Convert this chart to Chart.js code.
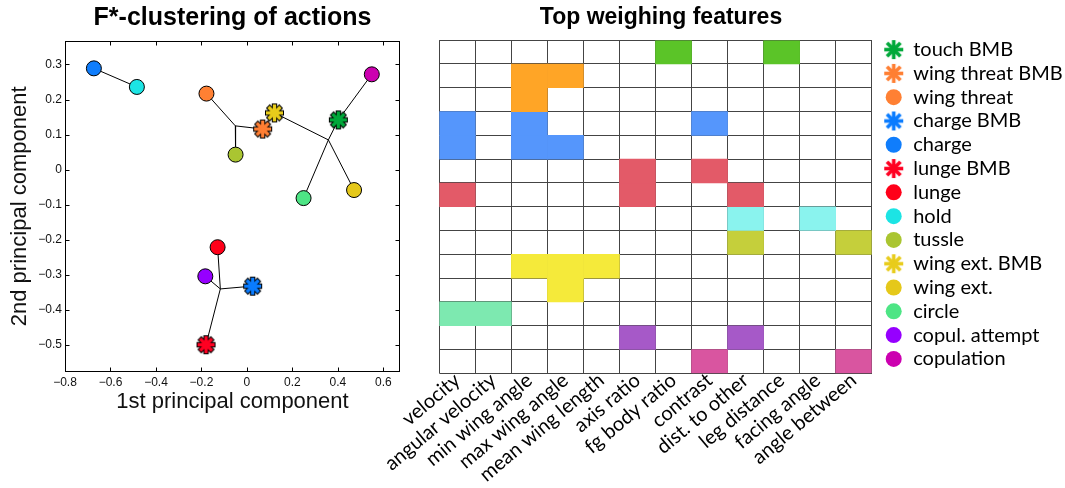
<!DOCTYPE html>
<html>
<head>
<meta charset="utf-8">
<script src="https://cdn.jsdelivr.net/npm/chart.js@4.4.0/dist/chart.umd.min.js"></script>
<style>
  html, body { margin: 0; padding: 0; background: #fff; }
  #pca { position: absolute; left: 0; top: 0; }
  #features { position: absolute; left: 340px; top: 0; }
</style>
</head>
<body>
<canvas id="pca" width="425" height="488"></canvas>
<canvas id="features" width="725" height="488"></canvas>
<script>
// actions, in legend / heatmap row order
const actions = ['touch BMB', 'wing threat BMB', 'wing threat', 'charge BMB', 'charge',
  'lunge BMB', 'lunge', 'hold', 'tussle', 'wing ext. BMB', 'wing ext.', 'circle',
  'copul. attempt', 'copulation'];
const markerColors = ['#00a83a', '#ff7f33', '#ff8033', '#0a7cff', '#0f7dfc',
  '#ff0022', '#ff0019', '#1ce4e4', '#aac531', '#e8cc1c', '#e5c81a', '#4de585',
  '#9600ff', '#cc00b0'];
const cellColors = ['#5bc428', '#ffa526', '#ffa526', '#5596fc', '#5596fc',
  '#e35a68', '#e35a68', '#8af3ee', '#c5cf3b', '#f5ea3a', '#f5ea3a', '#7de9b0',
  '#a659c8', '#d955a0'];

// first two principal components of each action
const pcX = [0.402, 0.069, -0.178, 0.025, -0.673, -0.180, -0.129, -0.484, -0.050, 0.121, 0.471, 0.249, -0.183, 0.549];
const pcY = [0.142, 0.116, 0.217, -0.332, 0.289, -0.499, -0.221, 0.236, 0.043, 0.162, -0.058, -0.081, -0.304, 0.272];
// cluster junctions (indices 14, 15, 16 in links)
const junctionX = [-0.051, 0.358, -0.117];
const junctionY = [0.125, 0.085, -0.340];
const links = [[4, 7], [14, 2], [14, 8], [14, 1], [1, 9], [15, 9], [15, 10], [15, 11],
  [15, 0], [0, 13], [16, 6], [16, 12], [16, 3], [16, 5]];
const xTicks = [-0.8, -0.6, -0.4, -0.2, 0, 0.2, 0.4, 0.6];
const yTicks = [-0.5, -0.4, -0.3, -0.2, -0.1, 0, 0.1, 0.2, 0.3];

// heatmap columns and the top features marked for each action
const features = ['velocity', 'angular velocity', 'min wing angle', 'max wing angle',
  'mean wing length', 'axis ratio', 'fg body ratio', 'contrast', 'dist. to other',
  'leg distance', 'facing angle', 'angle between'];
const topFeatures = [[6, 9], [2, 3], [2], [0, 2, 7], [0, 2, 3], [5, 7], [0, 5, 8],
  [8, 10], [8, 11], [2, 3, 4], [3], [0, 1], [5, 8], [7, 11]];

const isBMB = actions.map(a => a.endsWith('BMB'));
const SANS = '"Liberation Sans", Arial, sans-serif';

// eight-armed asterisk marker, optionally outlined in black
function asterisk(color, size, arm, outline) {
  const c = document.createElement('canvas');
  c.width = c.height = size + 4;
  const ctx = c.getContext('2d');
  ctx.translate(c.width / 2, c.height / 2);
  const bars = (len, w, fill) => {
    ctx.fillStyle = fill;
    for (let k = 0; k < 4; k++) {
      ctx.save();
      ctx.rotate(k * Math.PI / 4);
      ctx.fillRect(-len / 2, -w / 2, len, w);
      ctx.restore();
    }
  };
  if (outline) {
    bars(size, arm + 2, '#000');
    bars(size - 2, arm, color);
  } else {
    bars(size, arm, color);
  }
  return c;
}

const fmt = v => v === 0 ? '0' : (v < 0 ? '\u2212' : '') + Math.abs(v).toFixed(1);

// box with inward tick marks on all four sides
const frame = {
  id: 'frame',
  beforeDatasetsDraw(chart) {
    const {ctx, chartArea: a, scales: {x, y}} = chart;
    const L = Math.round(a.left) + 0.5, R = Math.round(a.right) - 0.5;
    const T = Math.round(a.top) + 0.5, B = Math.round(a.bottom) - 0.5;
    ctx.save();
    ctx.strokeStyle = '#000';
    ctx.lineWidth = 1;
    ctx.strokeRect(L, T, R - L, B - T);
    ctx.beginPath();
    xTicks.forEach(v => {
      const px = Math.round(x.getPixelForValue(v)) + 0.5;
      ctx.moveTo(px, B); ctx.lineTo(px, B - 4);
      ctx.moveTo(px, T); ctx.lineTo(px, T + 4);
    });
    yTicks.forEach(v => {
      const py = Math.round(y.getPixelForValue(v)) + 0.5;
      ctx.moveTo(L, py); ctx.lineTo(L + 4, py);
      ctx.moveTo(R, py); ctx.lineTo(R - 4, py);
    });
    ctx.stroke();
    ctx.restore();
  }
};

const nodeX = pcX.concat(junctionX);
const nodeY = pcY.concat(junctionY);

const pointSets = actions.map((name, i) => ({
  label: name,
  data: [{x: pcX[i], y: pcY[i]}],
  pointStyle: isBMB[i] ? asterisk(markerColors[i], 19, 3.4, true) : 'circle',
  pointRadius: 7.5,
  backgroundColor: markerColors[i],
  borderColor: '#000',
  borderWidth: 1
}));
const linkSets = links.map(([a, b]) => ({
  data: [{x: nodeX[a], y: nodeY[a]}, {x: nodeX[b], y: nodeY[b]}],
  showLine: true,
  borderColor: '#000',
  borderWidth: 1,
  pointRadius: 0
}));

new Chart(document.getElementById('pca'), {
  type: 'scatter',
  data: {datasets: pointSets.concat(linkSets)},
  options: {
    responsive: false,
    animation: false,
    layout: {padding: {left: 0, right: 25, top: 0, bottom: 0}},
    plugins: {legend: {display: false}, tooltip: {enabled: false}},
    scales: {
      x: {
        type: 'linear', min: -0.8, max: 0.673,
        afterBuildTicks: s => { s.ticks = xTicks.map(v => ({value: v})); },
        afterFit: s => { s.height = 116.3; },
        grid: {display: false, drawTicks: false},
        border: {display: false},
        ticks: {padding: 4, autoSkip: false, maxRotation: 0, color: '#111',
          font: {family: SANS, size: 12}, callback: fmt},
        title: {display: true, text: '1st principal component', color: '#111',
          font: {family: SANS, size: 22}, padding: {top: 0, bottom: 72.8}}
      },
      y: {
        type: 'linear', min: -0.576, max: 0.367,
        afterBuildTicks: s => { s.ticks = yTicks.map(v => ({value: v})); },
        afterFit: s => { s.width = 65; },
        grid: {display: false, drawTicks: false},
        border: {display: false},
        ticks: {padding: 3, autoSkip: false, color: '#111',
          font: {family: SANS, size: 12}, callback: fmt},
        title: {display: true, text: '2nd principal component', color: '#111',
          font: {family: SANS, size: 22}, padding: {top: 6.8, bottom: 0}}
      },
      top: {
        type: 'linear', position: 'top',
        afterFit: s => { s.height = 41; },
        grid: {display: false, drawTicks: false},
        border: {display: false},
        ticks: {display: false},
        title: {display: true, text: 'F*-clustering of actions', color: '#000',
          font: {family: SANS, size: 25, weight: 'bold'}, padding: {top: 3, bottom: 0}}
      }
    }
  },
  plugins: [frame]
});

// legend drawn against the heatmap rows
const legendStars = actions.map((a, i) => isBMB[i] ? asterisk(markerColors[i], 19, 3.6, false) : null);
const rowLegend = {
  id: 'rowLegend',
  afterDraw(chart) {
    const {ctx, chartArea, scales: {y}} = chart;
    ctx.save();
    ctx.font = '20px Lato';
    ctx.textBaseline = 'middle';
    ctx.textAlign = 'left';
    actions.forEach((name, r) => {
      const py = y.getPixelForValue(r + 0.5) - 2.5;
      const px = chartArea.right + 22;
      if (isBMB[r]) {
        const s = legendStars[r];
        ctx.drawImage(s, px - s.width / 2, py - s.height / 2);
      } else {
        ctx.beginPath();
        ctx.arc(px, py, 8, 0, 2 * Math.PI);
        ctx.fillStyle = markerColors[r];
        ctx.fill();
      }
      ctx.fillStyle = '#000';
      ctx.fillText(name, chartArea.right + 41.5, py);
    });
    ctx.restore();
  }
};

const cellSets = actions.map((name, r) => ({
  label: name,
  data: features.map((f, c) => topFeatures[r].includes(c) ? [r, r + 1] : null),
  backgroundColor: cellColors[r],
  borderWidth: 0,
  barPercentage: 1,
  categoryPercentage: 1,
  grouped: false
}));

new Chart(document.getElementById('features'), {
  type: 'bar',
  data: {labels: features, datasets: cellSets},
  options: {
    responsive: false,
    animation: false,
    layout: {padding: {left: 99.3, right: 182.3, top: 0, bottom: 0}},
    plugins: {
      legend: {display: false},
      tooltip: {enabled: false},
      title: {display: true, text: 'Top weighing features', color: '#000',
        font: {family: SANS, size: 23, weight: 'bold'}, padding: {top: 4, bottom: 8.6}}
    },
    scales: {
      x: {
        z: 1,
        afterFit: s => { s.height = 114.7; s.paddingLeft = 0; s.paddingRight = 0; },
        grid: {color: '#444', drawTicks: false, offset: true},
        border: {display: false},
        ticks: {padding: -5, autoSkip: false, minRotation: 40, maxRotation: 40,
          color: '#000', font: {family: 'Lato', size: 20}}
      },
      y: {
        z: 1, type: 'linear', position: 'right', min: 0, max: actions.length, reverse: true,
        afterBuildTicks: s => { s.ticks = actions.map((a, i) => ({value: i})).concat({value: actions.length}); },
        afterFit: s => { s.width = 11; },
        grid: {color: '#444', drawTicks: false},
        border: {display: false},
        ticks: {display: false}
      }
    }
  },
  plugins: [rowLegend]
});
</script>
</body>
</html>
